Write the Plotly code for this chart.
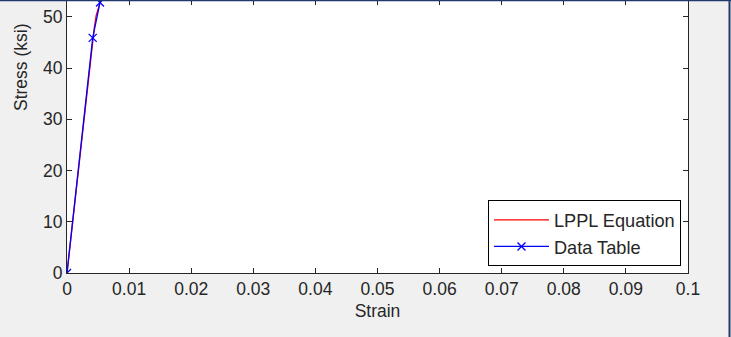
import plotly.graph_objects as go

# LPPL equation curve
lppl_strain = [0, 0.001, 0.002, 0.003, 0.004, 0.0044, 0.0047, 0.005, 0.0053, 0.006]
lppl_stress = [0, 11.1, 22.2, 33.3, 44.2, 47.9, 50.3, 51.6, 52.7, 54.5]

# Data table points
table_strain = [0, 0.00414, 0.00531, 0.0065]
table_stress = [0, 45.9, 52.8, 58.0]

x_ticks = [0, 0.01, 0.02, 0.03, 0.04, 0.05, 0.06, 0.07, 0.08, 0.09, 0.1]
x_tick_text = ["0", "0.01", "0.02", "0.03", "0.04", "0.05", "0.06", "0.07", "0.08", "0.09", "0.1"]
y_ticks = [0, 10, 20, 30, 40, 50]

FONT = "Liberation Sans, Arial, sans-serif"
FS = 17.5
TXT = "#262626"

fig = go.Figure()
fig.add_trace(go.Scatter(x=lppl_strain, y=lppl_stress, mode="lines", name="LPPL Equation",
                         line=dict(color="#ff0000", width=1.3)))
fig.add_trace(go.Scatter(x=table_strain, y=table_stress, mode="lines+markers", name="Data Table",
                         line=dict(color="#0000ff", width=1.3),
                         marker=dict(symbol="x-thin", size=8, color="#0000ff",
                                     line=dict(color="#0000ff", width=1.3))))

W, H = 731, 337
L, R, T, B = 67, 731 - 688, 0, 337 - 273

fig.update_layout(
    width=W, height=H,
    margin=dict(l=L, r=R, t=T, b=B, pad=0),
    paper_bgcolor="#f0f0f0", plot_bgcolor="#ffffff",
    font=dict(family=FONT, size=FS, color=TXT),
    showlegend=True,
    legend=dict(x=0.9887, y=0.024, xanchor="right", yanchor="bottom",
                bgcolor="#ffffff", bordercolor="#000000", borderwidth=1,
                font=dict(family=FONT, size=18.2, color=TXT),
                itemwidth=55, tracegroupgap=0),
    xaxis=dict(range=[0, 0.1], tickvals=x_ticks, ticktext=x_tick_text,
               ticks="inside", ticklen=5, tickcolor=TXT, showline=True,
               linecolor=TXT, linewidth=1, mirror="ticks", showgrid=False,
               zeroline=False, tickfont=dict(size=FS),
               title=dict(text="Strain", font=dict(size=FS), standoff=6)),
    yaxis=dict(range=[0, 53.3], tickvals=y_ticks, ticks="inside", ticklen=5,
               tickcolor=TXT, showline=True, linecolor=TXT, linewidth=1,
               mirror="ticks", showgrid=False, zeroline=False, tickfont=dict(size=FS)),
    annotations=[dict(text="Stress (ksi)", xref="paper", yref="paper",
                      x=-(67 - 21) / 621, y=1 - 67 / 273, textangle=-90,
                      showarrow=False, font=dict(family=FONT, size=FS, color=TXT),
                      xanchor="center", yanchor="middle")],
    shapes=[
        dict(type="line", xref="paper", yref="paper", x0=-67 / 621, x1=(731 - 67) / 621,
             y0=1 - 0.5 / 273, y1=1 - 0.5 / 273, line=dict(color="#1f3a6b", width=1.5)),
        dict(type="line", xref="paper", yref="paper", x0=(729.5 - 67) / 621, x1=(729.5 - 67) / 621,
             y0=-64 / 273, y1=1, line=dict(color="#1f3a6b", width=2)),
    ],
)

fig.write_html("out.html", config={"displayModeBar": False},
               post_script="document.body.style.margin='0';document.body.style.overflow='hidden';")
